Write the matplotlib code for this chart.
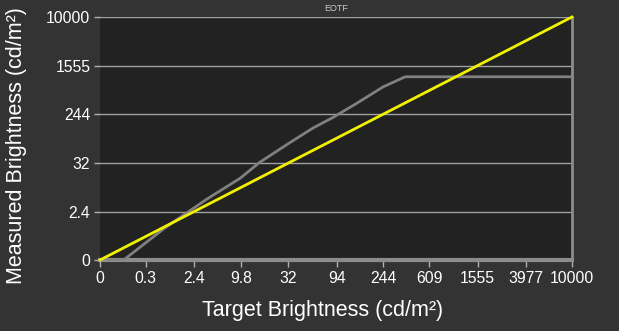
import numpy as np
import matplotlib
matplotlib.use("Agg")
import matplotlib.pyplot as plt

plt.rcParams['font.family'] = ['Liberation Sans', 'DejaVu Sans']

# tick values shown on the axes (cd/m2)
x_ticks = [0, 0.3, 2.4, 9.8, 32, 94, 244, 609, 1555, 3977, 10000]
y_ticks = [0, 2.4, 32, 244, 1555, 10000]

# reference (target) curve
ref_target = [0, 0.3, 2.4, 9.8, 32, 94, 244, 609, 1555, 3977, 10000]
ref_measured = [0, 0.3, 2.4, 9.8, 32, 94, 244, 609, 1555, 3977, 10000]

# measured curve
meas_target = [0, 0.06, 0.75, 3.6, 9.7, 16, 33, 56, 87, 143, 243, 378, 10000]
meas_measured = [0, 0, 0.66, 5.1, 15.8, 33, 77, 141, 216, 374, 694, 1020, 1020]

# SMPTE ST 2084 (PQ) curve used for axis spacing
m1 = 0.1593017578125
m2 = 78.84375
c1 = 0.8359375
c2 = 18.8515625
c3 = 18.6875


def pq_fwd(L):
    y = np.clip(np.asarray(L, dtype=float) / 10000.0, 0, None)
    p = y ** m1
    return ((c1 + c2 * p) / (1 + c3 * p)) ** m2


def pq_inv(E):
    e = np.clip(np.asarray(E, dtype=float), 0, 1) ** (1 / m2)
    num = np.clip(e - c1, 0, None)
    return 10000.0 * (num / (c2 - c3 * e)) ** (1 / m1)


fig = plt.figure(figsize=(6.19, 3.31), dpi=100, facecolor='#333333')
ax = fig.add_axes([0.1616, 0.2145, 0.7624, 0.7341])
ax.set_facecolor('#222222')

ax.set_xscale('function', functions=(pq_fwd, pq_inv))
ax.set_yscale('function', functions=(pq_fwd, pq_inv))
ax.set_xlim(0, 10000)
ax.set_ylim(0, 10000)

ax.set_xticks(x_ticks)
ax.set_xticklabels([f"{v:g}" for v in x_ticks])
ax.set_yticks(y_ticks)
ax.set_yticklabels([f"{v:g}" for v in y_ticks])
ax.minorticks_off()

ax.grid(axis='y', color='#a0a0a0', lw=1)
ax.set_axisbelow(True)

ax.plot(meas_target, meas_measured, color='#808080', lw=2, zorder=3)
ax.plot(ref_target, ref_measured, color='#f2f200', lw=2, zorder=4, clip_on=False)

for s in ['top', 'left']:
    ax.spines[s].set_visible(False)
ax.spines['bottom'].set_color('#8c8c8c')
ax.spines['bottom'].set_linewidth(3)
ax.spines['right'].set_color('#8c8c8c')
ax.spines['right'].set_linewidth(2)

ax.tick_params(axis='both', colors='white', labelsize=11.3)
ax.tick_params(axis='x', color='#b0b0b0', length=5, width=1, pad=3)
ax.tick_params(axis='y', color='#b0b0b0', length=4, width=1, pad=3)

ax.set_title("EOTF", color='#c8c8c8', fontsize=6.5, pad=4)
ax.set_xlabel("Target Brightness (cd/m²)", color='white', fontsize=15.5, va='center')
ax.set_ylabel("Measured Brightness (cd/m²)", color='white', fontsize=15.5, va='center')
ax.xaxis.set_label_coords(0.472, -0.206)
ax.yaxis.set_label_coords(-0.178, 0.469)

fig.savefig("out.png", dpi=100, facecolor=fig.get_facecolor())
